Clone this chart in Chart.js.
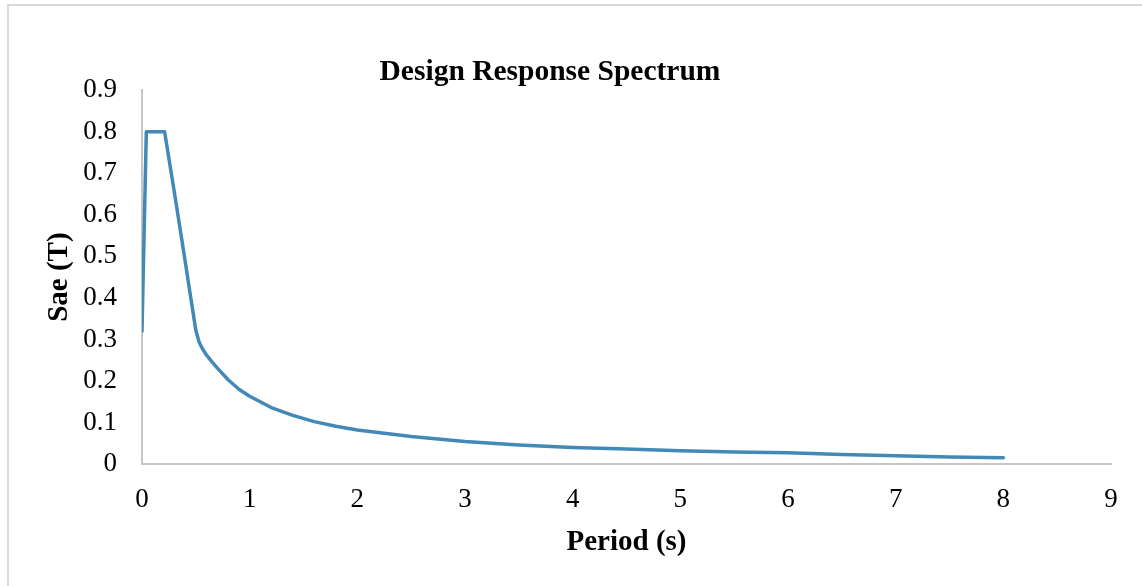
<!DOCTYPE html>
<html>
<head>
<meta charset="utf-8">
<title>Design Response Spectrum</title>
<script src="https://cdn.jsdelivr.net/npm/chart.js@4.4.1/dist/chart.umd.min.js"></script>
<style>
  html, body { margin: 0; padding: 0; background: #ffffff; overflow: hidden; }
  #frame {
    position: absolute; left: 7px; top: 4px; width: 1160px; height: 600px;
    border: 2px solid #d9d9d9; box-sizing: border-box;
  }
  #wrap { position: absolute; left: 0; top: 0; width: 1142px; height: 586px; }
</style>
</head>
<body>
<div id="frame"></div>
<div id="wrap"><canvas id="chart" width="1142" height="586"></canvas></div>
<script>
// Period T (s) and spectral acceleration Sae(T)
const periods = [0, 0.04, 0.21, 0.3, 0.4, 0.45, 0.48, 0.5, 0.53, 0.56, 0.6, 0.65, 0.7, 0.8, 0.9, 1.0,
                 1.2, 1.4, 1.6, 1.8, 2.0, 2.5, 3.0, 3.5, 4.0, 4.5, 5.0, 5.5, 6.0, 6.5, 7.0, 7.5, 8.0];
const saeValues = [0.32, 0.80, 0.80, 0.655, 0.49, 0.405, 0.355, 0.322, 0.294, 0.278, 0.262, 0.246, 0.231, 0.203, 0.18, 0.163,
                   0.136, 0.117, 0.102, 0.091, 0.082, 0.066, 0.054, 0.046, 0.040, 0.036, 0.032, 0.029, 0.027, 0.023, 0.020, 0.017, 0.015];

const xTicks = [0, 1, 2, 3, 4, 5, 6, 7, 8, 9];
const yTicks = [0, 0.1, 0.2, 0.3, 0.4, 0.5, 0.6, 0.7, 0.8, 0.9];

const chartTitle = 'Design Response Spectrum';
const xTitle = 'Period (s)';
const yTitle = 'Sae (T)';

const serif = "'Liberation Serif', 'Times New Roman', serif";
const axisGray = '#c6c6c6';

const points = periods.map((t, i) => ({ x: t, y: saeValues[i] }));

new Chart(document.getElementById('chart'), {
  type: 'scatter',
  data: {
    datasets: [{
      data: points,
      showLine: true,
      borderColor: '#4389b8',
      backgroundColor: '#4389b8',
      borderWidth: 3.5,
      pointRadius: 0,
      tension: 0,
      borderJoinStyle: 'round',
      borderCapStyle: 'round'
    }]
  },
  options: {
    responsive: false,
    animation: false,
    devicePixelRatio: 1,
    // the left padding is negative so the title sits a little left of the canvas centre
    layout: { padding: { top: 30, right: 31, bottom: 0, left: -11 } },
    plugins: {
      legend: { display: false },
      tooltip: { enabled: false },
      title: {
        display: true,
        text: chartTitle,
        color: '#000000',
        font: { family: serif, size: 29.5, weight: 'bold' },
        padding: { top: 24.3, bottom: 0.6 }
      }
    },
    scales: {
      x: {
        type: 'linear',
        min: 0,
        max: 9,
        afterBuildTicks: (scale) => { scale.ticks = xTicks.map(v => ({ value: v })); },
        afterFit: (scale) => { scale.height = 122; },
        grid: { display: false, drawTicks: false },
        border: { display: true, color: axisGray, width: 2 },
        ticks: {
          color: '#000000',
          padding: 20,
          maxRotation: 0,
          font: { family: serif, size: 27 },
          callback: (v) => String(v)
        },
        title: {
          display: true,
          text: xTitle,
          color: '#000000',
          font: { family: serif, size: 29, weight: 'bold' },
          padding: { top: 0, bottom: 25.6 }
        }
      },
      y: {
        type: 'linear',
        min: 0,
        max: 0.9,
        afterBuildTicks: (scale) => { scale.ticks = yTicks.map(v => ({ value: v })); },
        afterFit: (scale) => { scale.width = 153; },
        grid: { display: false, drawTicks: false },
        border: { display: true, color: axisGray, width: 2 },
        ticks: {
          color: '#000000',
          padding: 25,
          font: { family: serif, size: 27 },
          callback: (v) => String(Math.round(v * 10) / 10)
        },
        title: {
          display: true,
          text: yTitle,
          color: '#000000',
          font: { family: serif, size: 29, weight: 'bold' },
          padding: { top: 53.6, bottom: 0 }
        }
      }
    }
  }
});
</script>
</body>
</html>
